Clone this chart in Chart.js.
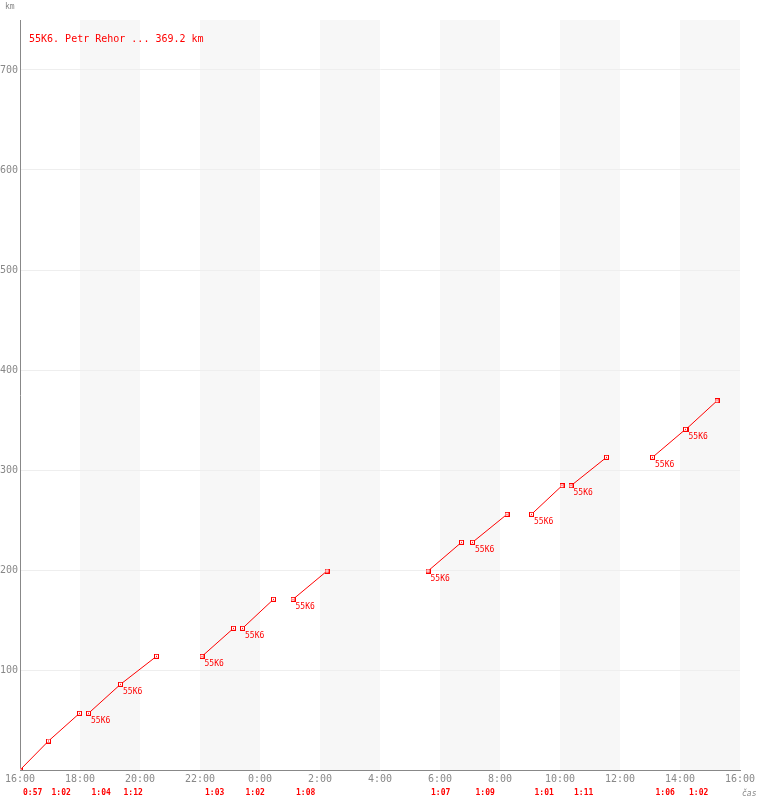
<!DOCTYPE html>
<html>
<head>
<meta charset="utf-8">
<script src="https://cdn.jsdelivr.net/npm/chart.js@4"></script>
<style>
html,body{margin:0;padding:0;background:#fff;}
</style>
</head>
<body>
<canvas id="chart" width="760" height="800"></canvas>
<script>
const title = '55K6. Petr Rehor ... 369.2 km';
// one entry per leg
const legStart = ['16:00','16:57','18:17','19:21','22:04','23:25','1:06','5:36','7:05','9:03','10:22','13:05','14:12'];
const legEnd   = ['16:57','17:59','19:21','20:33','23:07','0:27','2:14','6:43','8:14','10:04','11:33','14:11','15:14'];
const kmFrom   = [0, 29, 56.7, 85.7, 113.7, 141.7, 170.7, 199, 227.7, 255.7, 284.3, 312.7, 340.7];
const kmTo     = [29, 56.7, 85.7, 113.7, 141.7, 170.7, 199, 227.7, 255.7, 284.3, 312.7, 340.7, 369.2];
const legTime  = ['0:57','1:02','1:04','1:12','1:03','1:02','1:08','1:07','1:09','1:01','1:11','1:06','1:02'];
const legCrew  = ['','','55K6','55K6','55K6','55K6','55K6','55K6','55K6','55K6','55K6','55K6','55K6'];
const xTicks = ['16:00','18:00','20:00','22:00','0:00','2:00','4:00','6:00','8:00','10:00','12:00','14:00','16:00'];
const yTicks = [100,200,300,400,500,600,700];
const nightBands = ['18:00','22:00','2:00','6:00','10:00','14:00'];

const RED = '#ff0000';
const GREY = '#888';
const MONO = '"DejaVu Sans Mono", monospace';

// hours since 16:00
function hours(t){
    let [h,m] = t.split(':').map(Number);
    return (h - 16 + 24) % 24 + m/60;
}

function makeMarker(){
    let c = document.createElement('canvas');
    c.width = 5; c.height = 5;
    let g = c.getContext('2d');
    g.fillStyle = '#fff'; g.fillRect(0,0,5,5);
    g.strokeStyle = RED; g.lineWidth = 1; g.strokeRect(0.5,0.5,4,4);
    g.fillStyle = RED; g.fillRect(2,2,1,1);
    return c;
}
const marker = makeMarker();

const datasets = legStart.map((s,i)=>({
    data: [{x: hours(s), y: kmFrom[i]}, {x: hours(legEnd[i]), y: kmTo[i]}],
    showLine: true,
    borderColor: RED,
    borderWidth: 1,
    pointStyle: marker,
    pointRadius: 3
}));

const decor = {
    id: 'decor',
    beforeDraw(chart){
        let {ctx, chartArea, scales} = chart;
        ctx.save();
        ctx.fillStyle = '#f7f7f7';
        nightBands.forEach(b=>{
            let x0 = scales.x.getPixelForValue(hours(b));
            let x1 = scales.x.getPixelForValue(hours(b) + 2);
            ctx.fillRect(x0, chartArea.top, x1 - x0, chartArea.bottom - chartArea.top);
        });
        ctx.restore();
    },
    afterDraw(chart){
        let {ctx, chartArea, scales} = chart;
        ctx.save();
        ctx.textBaseline = 'alphabetic';
        ctx.textAlign = 'left';
        // title
        ctx.fillStyle = RED;
        ctx.font = '10px ' + MONO;
        ctx.fillText(title, chartArea.left + 9, 42);
        // axis names
        ctx.fillStyle = GREY;
        ctx.font = '8px ' + MONO;
        ctx.fillText('km', 5, 9);
        ctx.font = 'italic 8px ' + MONO;
        ctx.fillText('čas', 742, 796);
        // leg durations
        ctx.fillStyle = RED;
        ctx.font = 'bold 8px ' + MONO;
        legTime.forEach((t,i)=>{
            ctx.fillText(t, scales.x.getPixelForValue(hours(legStart[i])) + 3, 795);
        });
        // crew labels
        ctx.font = '8px ' + MONO;
        legCrew.forEach((c,i)=>{
            if(!c) return;
            let x = scales.x.getPixelForValue(hours(legStart[i]));
            let y = scales.y.getPixelForValue(kmFrom[i]);
            ctx.fillText(c, x + 2.5, y + 9.5);
        });
        ctx.restore();
    }
};

new Chart(document.getElementById('chart'), {
    type: 'scatter',
    data: {datasets},
    plugins: [decor],
    options: {
        responsive: false,
        animation: false,
        layout: {padding: {top: 20, right: 20, left: 0, bottom: 0}},
        plugins: {legend: {display: false}, tooltip: {enabled: false}},
        scales: {
            x: {
                type: 'linear', min: 0, max: 24,
                afterBuildTicks: s => { s.ticks = xTicks.map((t,i)=>({value: i*2})); },
                afterFit: s => { s.height = 30; },
                ticks: {autoSkip: false, maxRotation: 0, padding: 3, color: GREY,
                    font: {family: MONO, size: 10}, callback: (v,i)=>xTicks[i]},
                grid: {color: 'rgba(0,0,0,0)', drawTicks: false},
                border: {color: GREY, width: 1}
            },
            y: {
                min: 0, max: 750,
                afterBuildTicks: s => { s.ticks = yTicks.map(v=>({value: v})); },
                afterFit: s => { s.width = 20; },
                ticks: {padding: 2, color: GREY, font: {family: MONO, size: 10}},
                grid: {color: '#eee', drawTicks: false},
                border: {color: GREY, width: 1}
            }
        }
    }
});
</script>
</body>
</html>
